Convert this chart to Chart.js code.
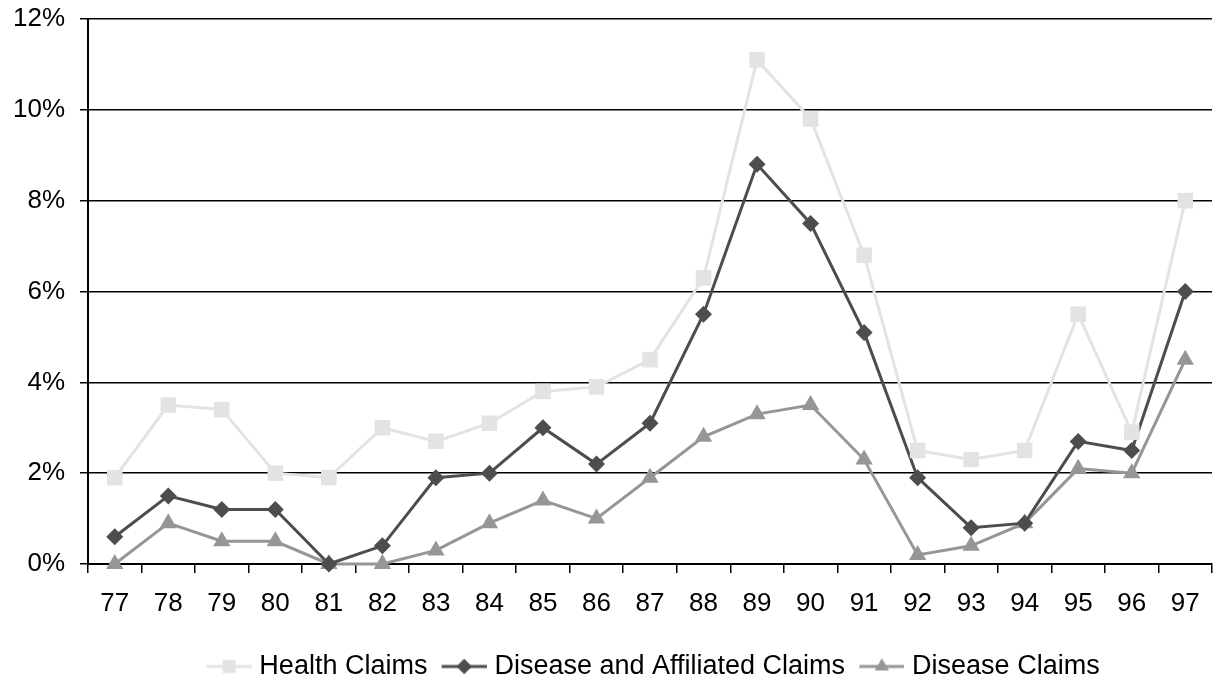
<!DOCTYPE html>
<html>
<head>
<meta charset="utf-8">
<script src="https://cdn.jsdelivr.net/npm/chart.js@4/dist/chart.umd.min.js"></script>
<style>
  html, body { margin: 0; padding: 0; background: #fff; }
  #wrap { width: 1223px; height: 684px; position: relative; }
</style>
</head>
<body>
<div id="wrap"><canvas id="claimsChart"></canvas></div>
<script>
// chart data
const years = ['77','78','79','80','81','82','83','84','85','86','87','88','89','90','91','92','93','94','95','96','97'];
const healthClaims = [1.9, 3.5, 3.4, 2.0, 1.9, 3.0, 2.7, 3.1, 3.8, 3.9, 4.5, 6.3, 11.1, 9.8, 6.8, 2.5, 2.3, 2.5, 5.5, 2.9, 8.0];
const affiliatedClaims = [0.6, 1.5, 1.2, 1.2, 0.0, 0.4, 1.9, 2.0, 3.0, 2.2, 3.1, 5.5, 8.8, 7.5, 5.1, 1.9, 0.8, 0.9, 2.7, 2.5, 6.0];
const diseaseClaims = [0.0, 0.9, 0.5, 0.5, 0.0, 0.0, 0.3, 0.9, 1.4, 1.0, 1.9, 2.8, 3.3, 3.5, 2.3, 0.2, 0.4, 0.9, 2.1, 2.0, 4.5];
const yTicks = [0, 2, 4, 6, 8, 10, 12];

const fontFamily = '"Liberation Sans", Arial, sans-serif';

// small canvas with line + marker for the legend (left 12px kept empty for spacing)
function legendIcon(color, style, radius) {
    const c = document.createElement('canvas');
    c.width = 57; c.height = 22;
    const g = c.getContext('2d');
    g.strokeStyle = color;
    g.lineWidth = 3;
    g.beginPath();
    g.moveTo(12, 11); g.lineTo(57, 11);
    g.stroke();
    g.fillStyle = color;
    Chart.helpers.drawPoint(g, { pointStyle: style, radius: radius, borderWidth: 0 }, 34.5, 11);
    g.fill();
    return c;
}

const series = [
    { label: 'Health Claims', data: healthClaims, color: '#e3e3e3', style: 'rect', radius: 11, legendRadius: 9 },
    { label: 'Disease and Affiliated Claims', data: affiliatedClaims, color: '#4d4d4d', style: 'rectRot', radius: 8.5, legendRadius: 7.5 },
    { label: 'Disease Claims', data: diseaseClaims, color: '#969696', style: 'triangle', radius: 10, legendRadius: 8 }
];

const ctx = document.getElementById('claimsChart').getContext('2d');
const claimsChart = new Chart(ctx, {
    type: 'line',
    data: {
        labels: years,
        datasets: series.map(s => ({
            label: s.label,
            data: s.data,
            borderColor: s.color,
            backgroundColor: s.color,
            borderWidth: 3,
            pointStyle: s.style,
            pointRadius: s.radius,
            pointBorderWidth: 0,
            pointBackgroundColor: s.color,
            tension: 0,
            fill: false,
            clip: false
        }))
    },
    options: {
        responsive: true,
        maintainAspectRatio: false,
        animation: false,
        layout: { padding: { top: 19, right: 3, left: 0, bottom: -6 } },
        plugins: {
            tooltip: { enabled: false },
            legend: {
                position: 'bottom',
                fullSize: false,
                labels: {
                    usePointStyle: true,
                    pointStyleWidth: 45.5,
                    boxHeight: 22,
                    padding: 8,
                    color: '#000',
                    font: { family: fontFamily, size: 27, lineHeight: 1.0 },
                    generateLabels: function(chart) {
                        return series.map((s, i) => ({
                            text: s.label,
                            pointStyle: legendIcon(s.color, s.style, s.legendRadius),
                            fillStyle: s.color,
                            strokeStyle: s.color,
                            lineWidth: 0,
                            hidden: false,
                            datasetIndex: i
                        }));
                    }
                }
            }
        },
        scales: {
            x: {
                offset: true,
                grid: {
                    offset: true,
                    drawOnChartArea: false,
                    drawTicks: true,
                    tickLength: 9,
                    color: '#000',
                    lineWidth: 1.5
                },
                border: { color: '#000', width: 2 },
                ticks: {
                    color: '#000',
                    padding: 15,
                    font: { family: fontFamily, size: 26 }
                },
                afterFit: function(scale) { scale.height = 81; }
            },
            y: {
                min: 0,
                max: 12,
                afterBuildTicks: function(scale) {
                    scale.ticks = yTicks.map(v => ({ value: v }));
                },
                grid: {
                    color: '#000',
                    lineWidth: 1.5,
                    drawTicks: true,
                    tickLength: 8
                },
                border: { color: '#000', width: 2 },
                ticks: {
                    color: '#000',
                    padding: 15,
                    font: { family: fontFamily, size: 26 },
                    callback: v => v + '%'
                },
                afterFit: function(scale) {
                    scale.width = 88;
                    scale.paddingTop = 0;
                    scale.paddingBottom = 0;
                }
            }
        }
    }
});
</script>
</body>
</html>
